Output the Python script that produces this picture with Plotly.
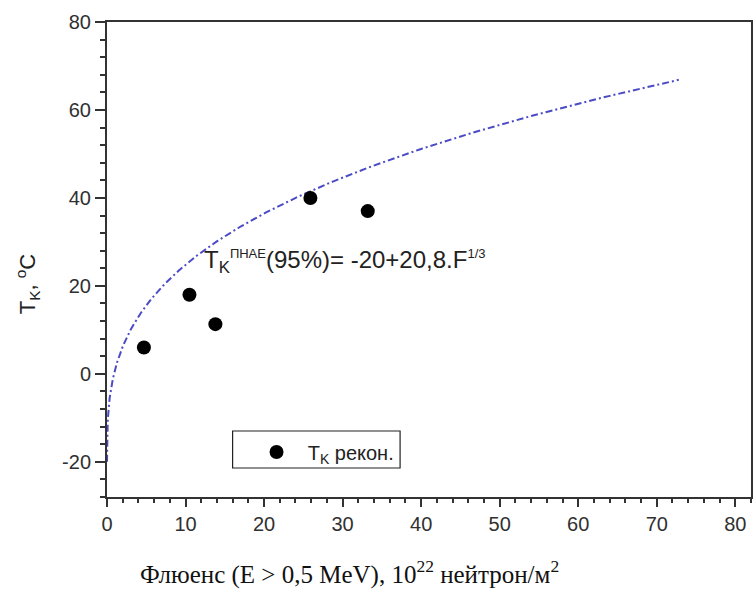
import numpy as np
import plotly.graph_objects as go

# Measured reconstruction temperatures
fluence = [4.7, 10.5, 13.8, 25.9, 33.2]          # 10^22 n/m^2
t_recon = [6.0, 18.0, 11.3, 40.0, 37.0]          # deg C

# Fit T = a + b * F^(1/3), as written on the chart
fit_a = -20.0
fit_b = 20.8
fit_exp = 1.0 / 3.0
fit_f_max = 72.8

x_ticks = [0, 10, 20, 30, 40, 50, 60, 70, 80]
y_ticks = [-20, 0, 20, 40, 60, 80]

# denser sampling near F = 0 where the curve is steep
f_fit = fit_f_max * np.linspace(0, 1, 400) ** 3
t_fit = fit_a + fit_b * np.power(f_fit, fit_exp)

W, H = 755, 589
ML, MR, MT, MB = 107, 2, 22, 92
PW, PH = W - ML - MR, H - MT - MB


def px(xp):
    return (xp - ML) / PW


def py(yp):
    return (H - MB - yp) / PH


fig = go.Figure()

fig.add_trace(go.Scatter(
    x=f_fit, y=t_fit, mode="lines",
    line=dict(color="#4b4bc6", width=2, dash="7px,3px,2px,3px"),
    showlegend=False, hoverinfo="skip",
))

fig.add_trace(go.Scatter(
    x=fluence, y=t_recon, mode="markers",
    name="&nbsp;&nbsp;T<sub>K</sub> рекон.",
    marker=dict(color="#000000", size=14),
))

tick_font = dict(family="Liberation Sans, Arial", size=20, color="#303030")

fig.update_xaxes(
    range=[0, 82], tickmode="array", tickvals=x_ticks,
    ticktext=[str(v) for v in x_ticks],
    ticks="outside", ticklen=8, tickwidth=2, tickcolor="#333",
    minor=dict(dtick=2, tick0=0, ticks="outside", ticklen=4, tickwidth=1.5, tickcolor="#333"),
    showline=True, linecolor="#333", linewidth=2, mirror=True,
    showgrid=False, zeroline=False, tickfont=tick_font,
)
fig.update_yaxes(
    range=[-28, 80], tickmode="array", tickvals=y_ticks,
    ticktext=[str(v) for v in y_ticks],
    ticks="outside", ticklen=10, tickwidth=2, tickcolor="#333",
    minor=dict(dtick=4, tick0=0, ticks="outside", ticklen=5, tickwidth=1.5, tickcolor="#333"),
    showline=True, linecolor="#333", linewidth=2, mirror=True,
    showgrid=False, zeroline=False, tickfont=tick_font,
)

# legend frame
fig.add_shape(type="rect", xref="paper", yref="paper",
              x0=px(233), x1=px(401), y0=py(468), y1=py(431),
              line=dict(color="#222", width=1.2), fillcolor="rgba(0,0,0,0)")

fig.update_layout(
    width=W, height=H,
    margin=dict(l=ML, r=MR, t=MT, b=MB),
    paper_bgcolor="white", plot_bgcolor="white",
    legend=dict(x=px(257), y=py(452), xanchor="left", yanchor="middle",
                bgcolor="rgba(0,0,0,0)", borderwidth=0,
                font=dict(family="Liberation Sans, Arial", size=20, color="#222")),
    annotations=[
        dict(xref="x", yref="y", x=12.1, y=25.5, xanchor="left", yanchor="middle",
             showarrow=False,
             text="T<sub>K</sub><sup><span style='font-size:13px'>ПНАЕ</span></sup>(95%)= -20+20,8.F"
                  "<sup><span style='font-size:13px'>1/3</span></sup>",
             font=dict(family="Liberation Sans, Arial", size=24, color="#222")),
        dict(xref="paper", yref="paper", x=px(27), y=py(284), xanchor="center", yanchor="middle",
             showarrow=False, textangle=-90,
             text="T<sub>K</sub>, <sup>o</sup>C",
             font=dict(family="Liberation Sans, Arial", size=22, color="#222")),
        dict(xref="paper", yref="paper", x=px(138), y=py(572), xanchor="left", yanchor="middle",
             showarrow=False,
             text="Флюенс (E > 0,5 MeV), 10<sup>22</sup> нейтрон/м<sup>2</sup>",
             font=dict(family="Liberation Serif, Times New Roman", size=25, color="#111")),
    ],
)

fig.write_html("out.html")
